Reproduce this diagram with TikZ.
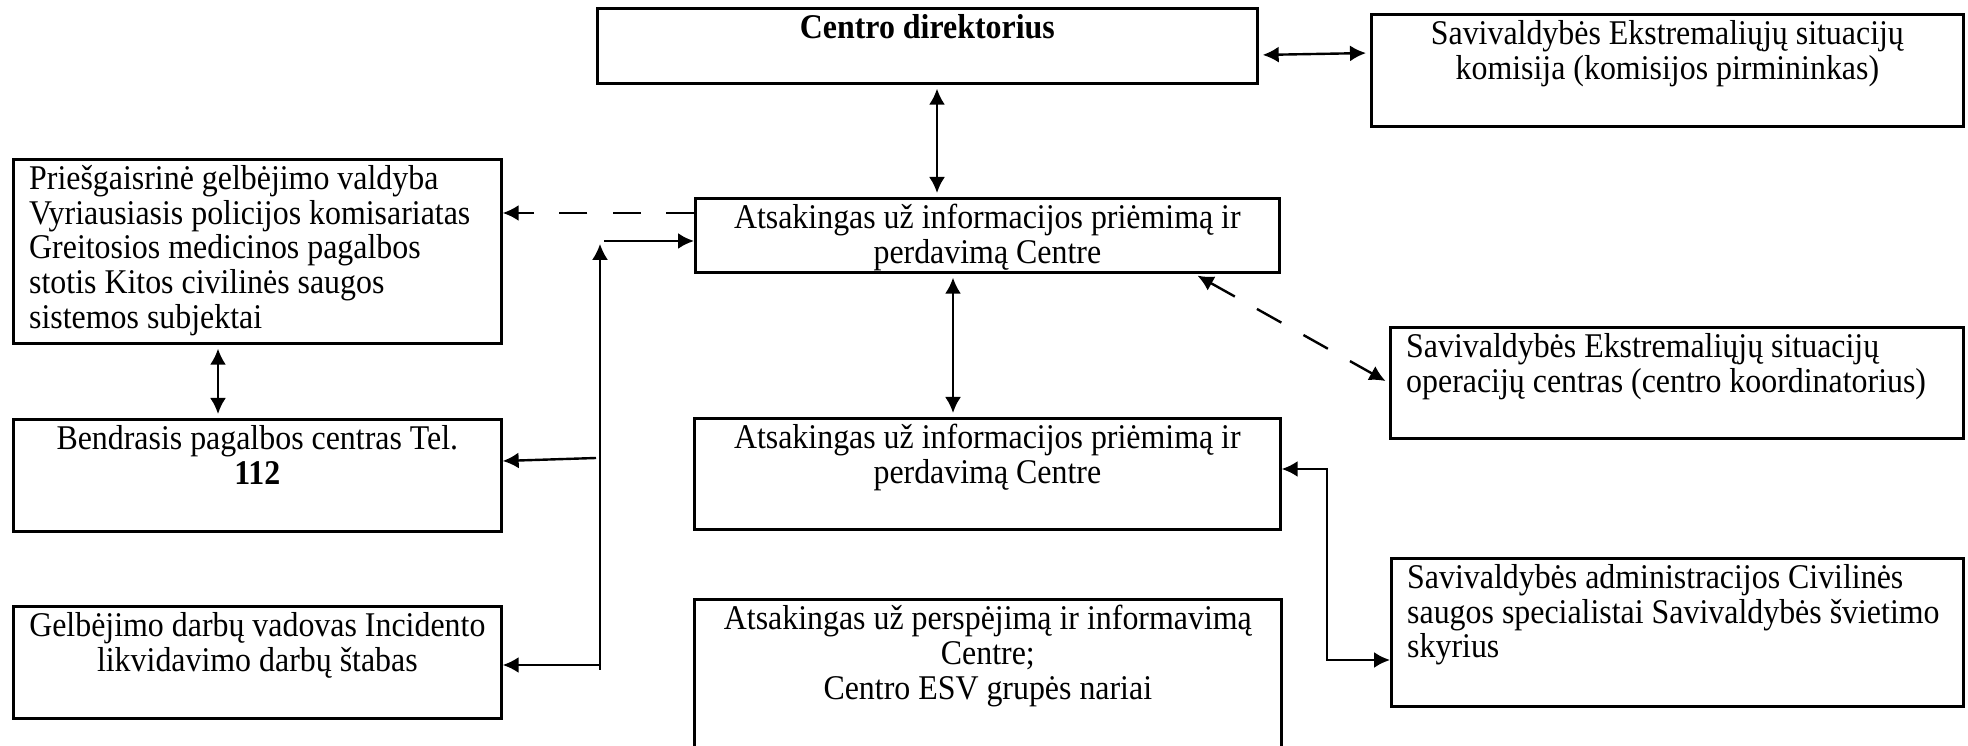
\documentclass[tikz,border=0pt]{standalone}
\usepackage{fontspec}
\setmainfont{Liberation Serif}[FakeStretch=0.92]
\usetikzlibrary{arrows.meta}

\tikzset{
  box/.style={draw, line width=1pt, anchor=north west, inner sep=0pt},
  sz/.style 2 args={minimum width=#1*0.375pt, minimum height=#2*0.375pt},
  txt/.style={anchor=north, align=center, inner xsep=0pt, inner ysep=2.3pt,
    font=\fontsize{13pt}{13pt}\selectfont, execute at begin node=\strut},
  ltxt/.style={txt, anchor=north west, align=left},
  dashline/.style={dash pattern=on 10.5pt off 9.5pt},
  gap/.style={shorten >=1.5pt, shorten <=1.5pt}
}

\begin{document}
\begin{tikzpicture}[x=0.375pt, y=-0.375pt, >={Latex[length=6pt,width=6pt]}, line width=0.9pt]
  \useasboundingbox (0,0) rectangle (1968,746);
  \clip (0,0) rectangle (1968,746);

  % 1. Blokai
  \node[box, sz={660}{75}] (dir) at (596,7) {};
  \node[box, sz={592}{112}] (kom) at (1370,13) {};
  \node[box, sz={488}{184}] (pgv) at (12,158) {};
  \node[box, sz={584}{74}] (at1) at (694,197) {};
  \node[box, sz={573}{111}] (opc) at (1389,326) {};
  \node[box, sz={488}{112}] (bend) at (12,418) {};
  \node[box, sz={586}{111}] (at2) at (693,417) {};
  \node[box, sz={572}{148}] (adm) at (1390,557) {};
  \node[box, sz={488}{112}] (gel) at (12,605) {};
  \node[box, sz={587}{220}] (psp) at (693,598) {};

  % 2. Tekstai
  \node[txt] (dirT) at (dir.north) {\textbf{Centro direktorius}};
  \node[txt] (komT) at (kom.north) {Savivaldybės Ekstremaliųjų situacijų\\komisija (komisijos pirmininkas)};
  \node[ltxt] (pgvT) at ([xshift=6pt]pgv.north west) {Priešgaisrinė gelbėjimo valdyba\\Vyriausiasis policijos komisariatas\\Greitosios medicinos pagalbos\\stotis Kitos civilinės saugos\\sistemos subjektai};
  \node[txt] (at1T) at (at1.north) {Atsakingas už informacijos priėmimą ir\\perdavimą Centre};
  \node[ltxt] (opcT) at ([xshift=6pt]opc.north west) {Savivaldybės Ekstremaliųjų situacijų\\operacijų centras (centro koordinatorius)};
  \node[txt] (bendT) at (bend.north) {Bendrasis pagalbos centras Tel.\\\textbf{112}};
  \node[txt] (at2T) at (at2.north) {Atsakingas už informacijos priėmimą ir\\perdavimą Centre};
  \node[ltxt] (admT) at ([xshift=6pt]adm.north west) {Savivaldybės administracijos Civilinės\\saugos specialistai Savivaldybės švietimo\\skyrius};
  \node[txt] (gelT) at (gel.north) {Gelbėjimo darbų vadovas Incidento\\likvidavimo darbų štabas};
  \node[txt] (pspT) at (psp.north) {Atsakingas už perspėjimą ir informavimą\\Centre;\\Centro ESV grupės nariai};

  % 3. Rodyklės
  \draw[<->, gap] (dir.east |- 0,55) -- (kom.west |- 0,53);
  \draw[<->, gap] (937,0 |- dir.south) -- (937,0 |- at1.north);
  \draw[<->, gap] (953,0 |- at1.south) -- (953,0 |- at2.north);
  \draw[<->, gap] (218,0 |- pgv.south) -- (218,0 |- bend.north);
  \draw[->, dashline] (at1.west |- 0,213) -- (pgv.east |- 0,213);
  \draw[<->, dashline, gap] (1194,0 |- at1.south) -- (opc.west |- 0,383);

  % kairioji linija
  \coordinate (busT) at (600,244);
  \coordinate (busB) at (600,670);
  \coordinate (busR) at (604,241);
  \coordinate (busM) at (596,458);
  \coordinate (busG) at (600,665);
  \draw[->, line width=0.7pt] (busB) -- (busT);
  \draw[->] (busR) -- (at1.west |- busR);
  \draw[->] (busM) -- (bend.east |- 0,461);
  \draw[->] (busG) -- (gel.east |- busG);

  % dešinioji linija
  \coordinate (rbus) at (1327,660);
  \draw[<->] (at2.east |- 0,469) -| (rbus) -- (adm.west |- rbus);
\end{tikzpicture}
\end{document}
